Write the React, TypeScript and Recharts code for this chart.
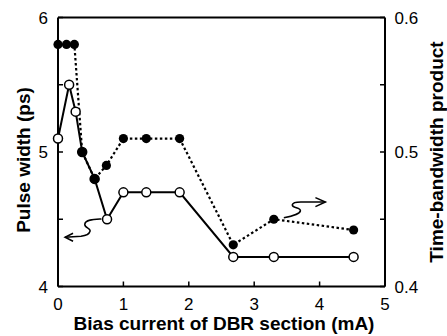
import { LineChart, Line, XAxis, YAxis, ReferenceDot } from "recharts";

// bias current (mA) and pulse width (ps), open circles
const biasPulse = [0, 0.17, 0.27, 0.37, 0.56, 0.75, 1.0, 1.35, 1.86, 2.68, 3.3, 4.52];
const pulseWidth = [5.1, 5.5, 5.3, 5.0, 4.8, 4.5, 4.7, 4.7, 4.7, 4.22, 4.22, 4.22];

// bias current (mA) and time-bandwidth product, filled circles
const biasTbp = [0, 0.13, 0.25, 0.37, 0.56, 0.74, 1.0, 1.35, 1.86, 2.68, 3.3, 4.52];
const tbp = [0.58, 0.58, 0.58, 0.5, 0.48, 0.49, 0.51, 0.51, 0.51, 0.431, 0.45, 0.442];

const xTicks = [0, 1, 2, 3, 4, 5];
const leftTicks = [4, 4.5, 5, 5.5, 6];
const rightTicks = [0.4, 0.45, 0.5, 0.55, 0.6];

const pulseData = biasPulse.map((x, i) => ({ x, y: pulseWidth[i] }));
const tbpData = biasTbp.map((x, i) => ({ x, y: tbp[i] }));

const FONT = "'Liberation Sans', Arial, sans-serif";
const tickStyle = { fontSize: 17, fill: "#000", fontFamily: FONT };
const axisLine = { stroke: "#000", strokeWidth: 2 };
const tickLine = { stroke: "#000", strokeWidth: 1.5 };

const OpenDot = (p: any) => (
  <circle key={`o${p.index}`} cx={p.cx} cy={p.cy} r={4.5} fill="#fff" stroke="#000" strokeWidth={1.5} />
);
const FilledDot = (p: any) => (
  <circle key={`f${p.index}`} cx={p.cx} cy={p.cy} r={4.6} fill="#000" stroke="none" />
);

const LeftArrow = (p: any) => (
  <g transform={`translate(${p.cx},${p.cy})`} fill="none" stroke="#000" strokeWidth={1.5}>
    <path d="M -5.6 -0.3 C -12 0 -22 0 -22.3 5 C -22.5 9 -16 9 -17 12 C -18 15.5 -22 16.5 -26 17 L -42 18" />
    <path d="M -34 14 L -42 18 L -34 22" />
  </g>
);
const RightArrow = (p: any) => (
  <g transform={`translate(${p.cx},${p.cy})`} fill="none" stroke="#000" strokeWidth={1.5}>
    <path d="M 10 -1.6 C 18 -3 26 -5 26.6 -8.5 C 27 -12 18 -11 18.5 -14.5 C 19 -17 23 -17.3 27 -17.3 L 51.6 -17.3" />
    <path d="M 41.6 -21.6 L 51.6 -17.3 L 41.6 -12.6" />
  </g>
);

const titleProps = { fontSize: 19, fontWeight: "bold" as const, fill: "#000", fontFamily: FONT };

const LeftTitle = ({ viewBox }: any) => {
  const x = viewBox.x + 23.5;
  const y = viewBox.y + viewBox.height / 2 + 8;
  return (
    <text x={x} y={y} textAnchor="middle" dominantBaseline="central" transform={`rotate(-90, ${x}, ${y})`} {...titleProps}>
      Pulse width (ps)
    </text>
  );
};
const RightTitle = ({ viewBox }: any) => {
  const x = viewBox.x + 51.5;
  const y = viewBox.y + viewBox.height / 2;
  return (
    <text x={x} y={y} textAnchor="middle" dominantBaseline="central" transform={`rotate(-90, ${x}, ${y})`} {...titleProps}>
      Time-bandwidth product
    </text>
  );
};
const BottomTitle = ({ viewBox }: any) => (
  <text x={viewBox.x + viewBox.width / 2 + 2.5} y={viewBox.y + 43.5} textAnchor="middle" {...titleProps}>
    Bias current of DBR section (mA)
  </text>
);

export default function App() {
  return (
    <div style={{ position: "absolute", left: 0, top: 0, background: "#fff" }}>
      <LineChart width={447} height={336} margin={{ top: 0, right: 0, bottom: 0, left: 0 }}>
        <XAxis
          xAxisId="bottom"
          type="number"
          dataKey="x"
          domain={[0, 5]}
          ticks={xTicks}
          height={49.5}
          axisLine={axisLine}
          tickLine={tickLine}
          tickSize={-5}
          tickMargin={16}
          tick={tickStyle}
          label={{ content: BottomTitle }}
        />
        <XAxis
          xAxisId="top"
          orientation="top"
          type="number"
          dataKey="x"
          domain={[0, 5]}
          ticks={xTicks}
          height={17.5}
          axisLine={axisLine}
          tickLine={tickLine}
          tickSize={-5}
          tick={false}
        />
        <YAxis
          yAxisId="left"
          type="number"
          domain={[4, 6]}
          ticks={leftTicks}
          width={58}
          axisLine={axisLine}
          tickLine={tickLine}
          tickSize={-5}
          tickMargin={15}
          tick={tickStyle}
          tickFormatter={(v: number) => (Number.isInteger(v) ? String(v) : "")}
          label={{ content: LeftTitle }}
        />
        <YAxis
          yAxisId="right"
          orientation="right"
          type="number"
          domain={[0.4, 0.6]}
          ticks={rightTicks}
          width={62}
          axisLine={axisLine}
          tickLine={tickLine}
          tickSize={-5}
          tickMargin={14.5}
          tick={tickStyle}
          tickFormatter={(v: number) => ([0.4, 0.5, 0.6].includes(v) ? v.toFixed(1) : "")}
          label={{ content: RightTitle }}
        />
        <Line
          xAxisId="bottom"
          yAxisId="left"
          data={pulseData}
          dataKey="y"
          type="linear"
          stroke="#000"
          strokeWidth={2}
          dot={OpenDot}
          isAnimationActive={false}
        />
        <Line
          xAxisId="bottom"
          yAxisId="right"
          data={tbpData}
          dataKey="y"
          type="linear"
          stroke="#000"
          strokeWidth={2.2}
          strokeDasharray="2.5 2.5"
          dot={FilledDot}
          isAnimationActive={false}
        />
        <ReferenceDot xAxisId="bottom" yAxisId="left" x={0.75} y={4.5} shape={LeftArrow} />
        <ReferenceDot xAxisId="bottom" yAxisId="right" x={3.3} y={0.45} shape={RightArrow} />
      </LineChart>
    </div>
  );
}
